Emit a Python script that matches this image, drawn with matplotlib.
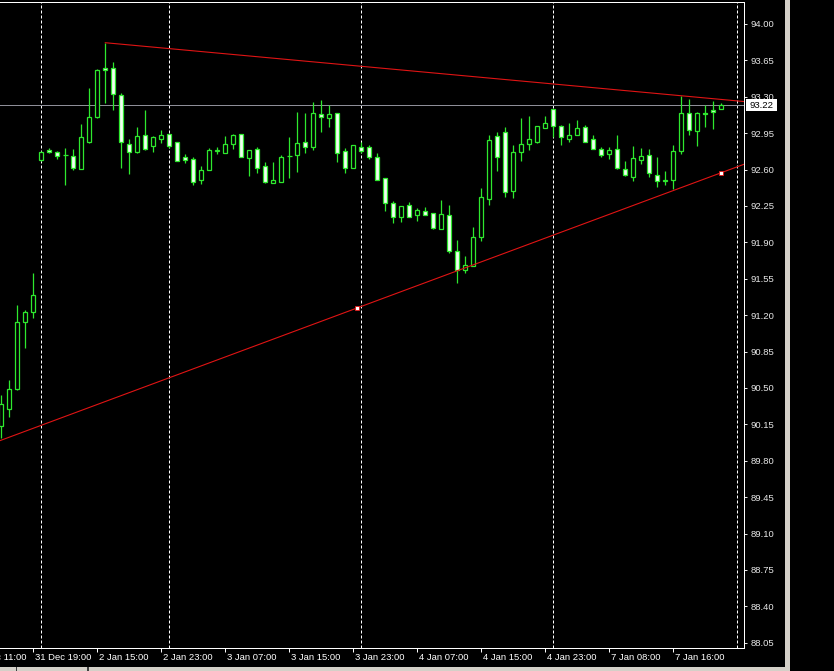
import matplotlib
matplotlib.use('Agg')
import matplotlib.pyplot as plt
from matplotlib.patches import Rectangle
from matplotlib.transforms import blended_transform_factory

# hourly bars (bar index 0 = first bar on the left)
opens = [90.13, 90.30, 90.49, 91.13, 91.23, 92.69, 92.79, 92.77, 92.74, 92.73,
         92.61, 92.87, 93.11, 93.58, 93.58, 93.32, 92.85, 92.77, 92.93, 92.83,
         92.89, 92.94, 92.87, 92.72, 92.70, 92.50, 92.60, 92.78, 92.76, 92.85,
         92.94, 92.71, 92.80, 92.63, 92.47, 92.48, 92.73, 92.74, 92.87, 92.82,
         93.13, 93.10, 93.14, 92.78, 92.62, 92.82, 92.82, 92.72, 92.52, 92.28,
         92.14, 92.26, 92.16, 92.20, 92.18, 92.03, 92.16, 91.82, 91.63, 91.67,
         91.95, 92.32, 92.92, 92.96, 92.39, 92.77, 92.85, 92.87, 93.00, 93.18,
         93.02, 92.89, 92.93, 93.01, 92.89, 92.80, 92.75, 92.80, 92.61, 92.53,
         92.69, 92.74, 92.55, 92.49, 92.50, 92.78, 93.14, 92.97, 93.14, 93.17,
         93.18]
highs = [90.43, 90.58, 91.30, 91.25, 91.61, 92.78, 92.81, 92.78, 92.81, 92.80,
         93.04, 93.38, 93.57, 93.82, 93.63, 93.34, 92.89, 93.01, 93.17, 92.92,
         92.98, 92.94, 92.87, 92.75, 92.72, 92.63, 92.81, 92.82, 92.92, 92.94,
         92.94, 92.79, 92.82, 92.67, 92.67, 92.74, 92.91, 93.15, 93.14, 93.25,
         93.27, 93.22, 93.14, 92.81, 92.84, 92.87, 92.84, 92.76, 92.52, 92.30,
         92.25, 92.29, 92.23, 92.24, 92.18, 92.31, 92.26, 91.92, 91.77, 92.05,
         92.42, 92.93, 92.96, 93.01, 92.84, 93.10, 93.12, 93.02, 93.12, 93.18,
         93.03, 93.05, 93.08, 93.03, 92.93, 92.82, 92.82, 92.93, 92.68, 92.83,
         92.81, 92.80, 92.72, 92.59, 92.84, 93.31, 93.28, 93.15, 93.22, 93.26,
         93.24]
lows = [90.02, 90.22, 90.48, 90.88, 91.17, 92.68, 92.76, 92.70, 92.45, 92.60,
        92.61, 92.86, 93.10, 93.24, 93.17, 92.62, 92.56, 92.76, 92.79, 92.77,
        92.86, 92.81, 92.68, 92.66, 92.45, 92.46, 92.60, 92.75, 92.76, 92.80,
        92.72, 92.54, 92.57, 92.47, 92.47, 92.48, 92.52, 92.58, 92.76, 92.79,
        92.96, 93.01, 92.67, 92.57, 92.62, 92.76, 92.70, 92.50, 92.20, 92.09,
        92.10, 92.14, 92.11, 92.16, 92.03, 92.03, 91.80, 91.51, 91.61, 91.67,
        91.91, 92.26, 92.59, 92.34, 92.33, 92.68, 92.79, 92.86, 93.00, 92.91,
        92.84, 92.87, 92.93, 92.87, 92.80, 92.72, 92.70, 92.61, 92.54, 92.49,
        92.65, 92.53, 92.43, 92.45, 92.41, 92.75, 92.93, 92.83, 93.01, 92.99,
        93.18]
closes = [90.35, 90.49, 91.13, 91.23, 91.39, 92.77, 92.77, 92.73, 92.74, 92.62,
          92.91, 93.11, 93.56, 93.56, 93.33, 92.87, 92.77, 92.92, 92.80, 92.91,
          92.93, 92.83, 92.68, 92.69, 92.48, 92.60, 92.79, 92.79, 92.85, 92.93,
          92.72, 92.79, 92.62, 92.48, 92.50, 92.72, 92.73, 92.86, 92.82, 93.14,
          93.11, 93.13, 92.76, 92.62, 92.84, 92.78, 92.72, 92.50, 92.28, 92.14,
          92.25, 92.14, 92.21, 92.16, 92.04, 92.17, 91.82, 91.63, 91.68, 91.95,
          92.34, 92.88, 92.72, 92.38, 92.77, 92.85, 92.89, 93.02, 93.05, 93.02,
          92.91, 92.93, 93.00, 92.87, 92.80, 92.74, 92.79, 92.62, 92.55, 92.71,
          92.73, 92.57, 92.49, 92.50, 92.78, 93.14, 92.98, 93.14, 93.13, 93.15,
          93.22]

time_tick_bars = [-4, 4, 12, 20, 28, 36, 44, 52, 60, 68, 76, 84]
time_labels = ['31 Dec 11:00', '31 Dec 19:00', '2 Jan 15:00', '2 Jan 23:00',
               '3 Jan 07:00', '3 Jan 15:00', '3 Jan 23:00', '4 Jan 07:00',
               '4 Jan 15:00', '4 Jan 23:00', '7 Jan 08:00', '7 Jan 16:00']
day_separators = [5, 21, 45, 69, 92]
price_ticks = [94.00, 93.65, 93.30, 92.95, 92.60, 92.25, 91.90, 91.55, 91.20,
               90.85, 90.50, 90.15, 89.80, 89.45, 89.10, 88.75, 88.40, 88.05]
last_price = 93.22

# trendlines: (bar, price) anchors
upper_line = [(13, 93.82), (85, 93.31)]
lower_line = [(-1, 89.97), (90, 92.57)]
lower_marks = [(44.5, 91.27), (90, 92.57)]

GREEN = '#2ee82e'
BEAR_FILL = '#f2fff2'
RED = '#e01414'
PX = 0.72  # one pixel in points at dpi 100


def draw_candles(ax):
    '''
    Draw the candles: hollow for up bars, filled for down bars
    '''
    for i, (o, h, l, c) in enumerate(zip(opens, highs, lows, closes)):
        ax.plot([i, i], [l, h], color=GREEN, lw=0.9, zorder=3,
                solid_capstyle='butt')
        if abs(c - o) < 0.005:
            ax.plot([i - 0.28, i + 0.28], [o, o], color=GREEN, lw=0.9,
                    zorder=4, solid_capstyle='butt')
            continue
        face = 'black' if c > o else BEAR_FILL
        ax.add_patch(Rectangle((i - 0.25, min(o, c)), 0.5, abs(c - o),
                               facecolor=face, edgecolor=GREEN, lw=0.9,
                               zorder=4))


def ray(ax, anchors, x_end):
    '''
    Draw a trendline from its first anchor and extend it to x_end
    '''
    (x1, y1), (x2, y2) = anchors
    slope = (y2 - y1) / (x2 - x1)
    ax.plot([x1, x_end], [y1, y1 + slope * (x_end - x1)], color=RED,
            lw=0.8, zorder=5)


def main():
    '''
    the main function
    '''
    fig = plt.figure(figsize=(8.34, 6.71), dpi=100, facecolor='black')
    ax = fig.add_axes([0, 23 / 671, 744 / 834, 646 / 671], facecolor='black')
    xmin, xmax = -0.16, 92.84
    ax.set_xlim(xmin, xmax)
    ax.set_ylim(88.0, 94.2115)

    for k in day_separators:
        ax.axvline(k, color='white', lw=PX, linestyle=(0, (3, 2)), zorder=2)
    ax.axhline(last_price, color='#8e8e98', lw=PX, zorder=2)

    draw_candles(ax)
    ray(ax, upper_line, xmax)
    ray(ax, lower_line, xmax)
    mx = [p[0] for p in lower_marks]
    my = [p[1] for p in lower_marks]
    ax.plot(mx, my, linestyle='none', marker='s', markersize=3.4,
            markerfacecolor='white', markeredgecolor=RED,
            markeredgewidth=0.6, zorder=6)

    for side in ['top', 'right', 'bottom']:
        ax.spines[side].set_color('white')
        ax.spines[side].set_linewidth(PX)
    ax.spines['left'].set_visible(False)

    ax.yaxis.tick_right()
    ax.set_yticks(price_ticks)
    ax.set_yticklabels([f'{p:.2f}' for p in price_ticks],
                       family='Liberation Sans')
    ax.tick_params(axis='y', colors='#e8e8e8', length=2.5, width=PX,
                   pad=2.2, labelsize=6.8)

    ax.set_xticks([k for k in time_tick_bars if k >= 0])
    ax.set_xticklabels([])
    ax.tick_params(axis='x', colors='white', length=2.9, width=PX)
    for k, label in zip(time_tick_bars, time_labels):
        ax.annotate(label, xy=(k, 0), xycoords=('data', 'axes fraction'),
                    xytext=(2 * PX, -9 * PX), textcoords='offset points',
                    ha='left', va='center', color='white', fontsize=6.8,
                    family='Liberation Sans', annotation_clip=False)

    # current price box on the price scale
    trans = blended_transform_factory(ax.transAxes, ax.transData)
    ax.add_patch(Rectangle((746 / 744, last_price - 5.5 / 104), 31 / 744,
                           11.3 / 104, transform=trans, facecolor='white',
                           edgecolor='none', clip_on=False, zorder=10))
    ax.text(750 / 744, last_price, f'{last_price:.2f}', transform=trans,
            ha='left', va='center', color='black', fontsize=6.8,
            family='Liberation Sans', zorder=11)

    # terminal window frame
    fig.add_artist(Rectangle((785 / 834, 0), 5 / 834, 1,
                             transform=fig.transFigure, facecolor='#d4d0c8',
                             edgecolor='none'))
    fig.add_artist(Rectangle((0, 0), 785 / 834, 4 / 671,
                             transform=fig.transFigure, facecolor='#d4d0c8',
                             edgecolor='none'))
    for xs in [16, 87]:
        fig.add_artist(Rectangle((xs / 834, 0), 1.5 / 834, 4 / 671,
                                 transform=fig.transFigure,
                                 facecolor='#404040', edgecolor='none'))

    plt.savefig('out.png', dpi=100, facecolor='black')


if __name__ == "__main__":
    main()
